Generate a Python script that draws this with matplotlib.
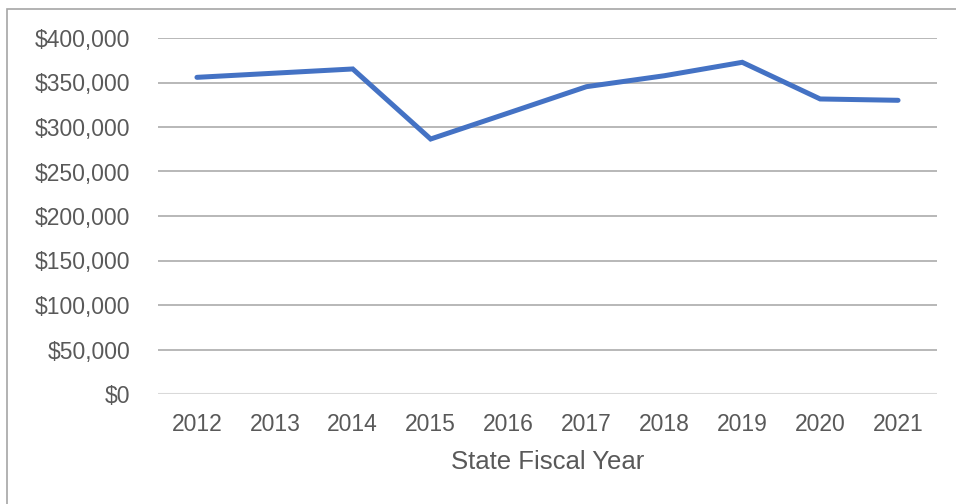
import matplotlib.pyplot as plt
from matplotlib.patches import Rectangle
from matplotlib.ticker import FuncFormatter

plt.rcParams['font.family'] = ['Liberation Sans', 'DejaVu Sans']

years = ['2012', '2013', '2014', '2015', '2016', '2017', '2018', '2019', '2020', '2021']
values = [355800, 360500, 365200, 286500, 315800, 345300, 357600, 372700, 331500, 330000]

W, H = 956, 504
fig = plt.figure(figsize=(W / 100, H / 100), dpi=100)
ax = fig.add_axes([158 / W, 1 - 394 / H, (937 - 158) / W, (394 - 38) / H])

ax.plot(range(len(years)), values, color='#4472C4', linewidth=3.6,
        solid_capstyle='round', solid_joinstyle='miter', zorder=3)

ax.set_xlim(-0.5, len(years) - 0.5)
ax.set_ylim(0, 400000)
ax.set_yticks(range(0, 400001, 50000))
ax.yaxis.set_major_formatter(FuncFormatter(lambda v, p: '${:,.0f}'.format(v)))
ax.set_xticks(range(len(years)))
ax.set_xticklabels(years)

ax.grid(axis='y', color='#ABABAB', linewidth=1.2, zorder=1)
ax.axhline(0, color='#D9D9D9', linewidth=1.5, zorder=2)
for s in ax.spines.values():
    s.set_visible(False)
ax.tick_params(length=0, labelsize=16.5, colors='#595959')
ax.tick_params(axis='y', pad=20)
ax.tick_params(axis='x', pad=14)
ax.set_xlabel('State Fiscal Year', fontsize=18.5, color='#595959', labelpad=10)

fig.patches.append(Rectangle((6.5 / W, -0.01), 1.0, 1 - 9 / H + 0.01,
                             transform=fig.transFigure, fill=False,
                             edgecolor='#A6A6A6', linewidth=1.2))

fig.savefig('out.png', dpi=100)
